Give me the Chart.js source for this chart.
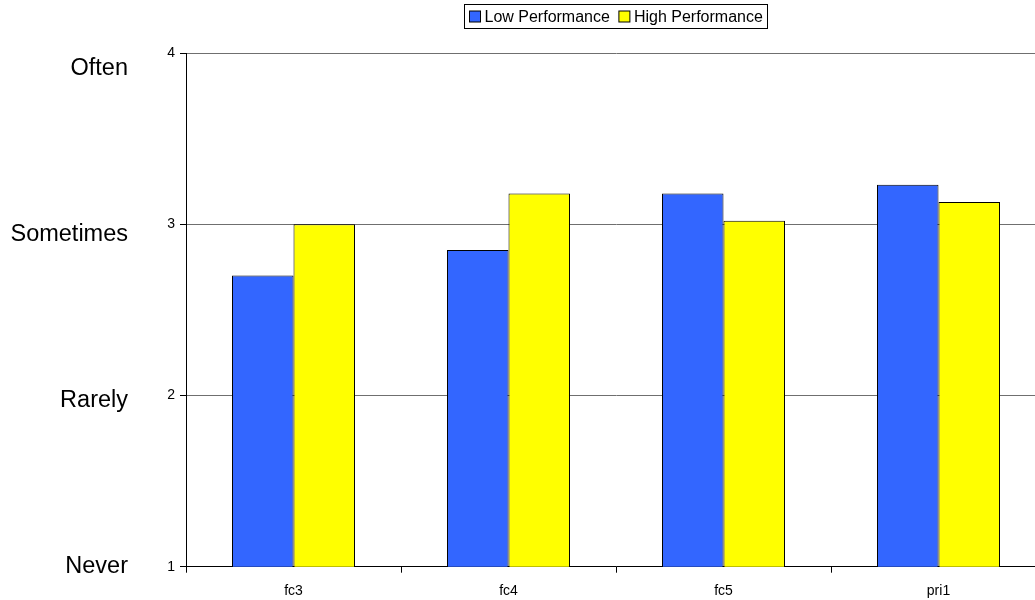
<!DOCTYPE html>
<html>
<head>
<meta charset="utf-8">
<script src="https://cdn.jsdelivr.net/npm/chart.js@4"></script>
<style>
    body { margin: 0; background: #fff; }
    .frame { width: 1035px; height: 600px; overflow: hidden; }
</style>
</head>
<body>
<div class="frame">
    <canvas id="chart" width="1048" height="600"></canvas>
</div>
<script>
    const categories = ["fc3", "fc4", "fc5", "pri1"]
    const lowPerformance = [2.70, 2.85, 3.18, 3.23]
    const highPerformance = [3.00, 3.18, 3.02, 3.13]
    const frequencyLabels = ["Never", "Rarely", "Sometimes", "Often"]
    const seriesNames = ["Low Performance", "High Performance"]
    const seriesColors = ["#3366FF", "#FFFF00"]

    const fontFamily = '"Liberation Sans", Arial, sans-serif'

    // legend box centred over the plot area, drawn like the Excel one
    const boxedLegend = {
        id: 'boxedLegend',
        afterDraw(chart) {
            const ctx = chart.ctx
            const area = chart.chartArea
            ctx.save()
            ctx.font = '16px ' + fontFamily
            const swatch = 11, gap = 4, itemGap = 9, pad = 5
            const widths = seriesNames.map(n => ctx.measureText(n).width)
            let total = pad * 2 + itemGap * (seriesNames.length - 1)
            widths.forEach(w => { total += swatch + gap + w })
            const left = Math.round((area.left + area.right) / 2 - total / 2) + 0.5
            const top = 4.5, height = 24
            ctx.strokeStyle = '#000'
            ctx.lineWidth = 1
            ctx.strokeRect(left, top, Math.round(total), height)
            let x = left + pad
            const midY = top + height / 2
            seriesNames.forEach((name, i) => {
                ctx.fillStyle = seriesColors[i]
                ctx.fillRect(x, midY - 5.5, swatch, swatch)
                ctx.strokeRect(x, midY - 5.5, swatch, swatch)
                x += swatch + gap
                ctx.fillStyle = '#000'
                ctx.textBaseline = 'middle'
                ctx.fillText(name, x, midY + 1)
                x += widths[i] + itemGap
            })
            ctx.restore()
        }
    }

    const ctx = document.getElementById('chart')
    new Chart(ctx, {
        type: 'bar',
        data: {
            labels: categories,
            datasets: [
                {
                    label: seriesNames[0],
                    data: lowPerformance,
                    backgroundColor: seriesColors[0],
                    borderColor: '#000',
                    borderWidth: 1
                },
                {
                    label: seriesNames[1],
                    data: highPerformance,
                    backgroundColor: seriesColors[1],
                    borderColor: '#000',
                    borderWidth: 1
                }
            ]
        },
        plugins: [boxedLegend],
        options: {
            responsive: false,
            animation: false,
            layout: {
                padding: { top: 53, left: 0, right: 2, bottom: 2 }
            },
            datasets: {
                bar: { categoryPercentage: 0.572, barPercentage: 1 }
            },
            plugins: {
                legend: { display: false },
                tooltip: { enabled: false }
            },
            scales: {
                x: {
                    // chart.js counts tick padding twice when sizing, so pin the height
                    afterFit: axis => { axis.height = 31.3 },
                    grid: {
                        display: true,
                        drawOnChartArea: false,
                        color: '#000',
                        tickLength: 6
                    },
                    border: { color: '#000' },
                    ticks: {
                        color: '#000',
                        padding: 10,
                        font: { family: fontFamily, size: 14 }
                    }
                },
                y: {
                    position: 'left',
                    weight: 0,
                    min: 1,
                    max: 4,
                    afterFit: axis => { axis.width = 54 },
                    grid: {
                        color: '#6f6f6f',
                        tickColor: '#000',
                        tickLength: 6
                    },
                    border: { color: '#000' },
                    ticks: {
                        stepSize: 1,
                        color: '#000',
                        padding: 5,
                        font: { family: fontFamily, size: 14 }
                    }
                },
                words: {
                    position: 'left',
                    weight: 1,
                    min: 1,
                    max: 4.092,
                    afterFit: axis => { axis.width = 132 },
                    grid: { display: false, drawTicks: false },
                    border: { display: false },
                    afterBuildTicks: axis => {
                        axis.ticks = [1, 2, 3, 4].map(v => ({ value: v }))
                    },
                    ticks: {
                        color: '#000',
                        padding: 4,
                        font: { family: fontFamily, size: 23.5 },
                        callback: value => frequencyLabels[value - 1]
                    }
                }
            }
        }
    })
</script>
</body>
</html>
